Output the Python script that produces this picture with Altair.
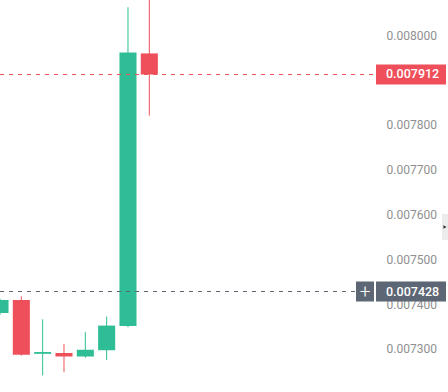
import altair as alt
import pandas as pd

# candle data (index, OHLC)
idx = [0, 1, 2, 3, 4, 5, 6, 7]
opens = [0.007380, 0.007409, 0.007289, 0.007291, 0.007283, 0.007297, 0.007351, 0.007959]
highs = [0.007412, 0.007417, 0.007366, 0.007311, 0.007338, 0.007372, 0.008062, 0.008090]
lows = [0.007376, 0.007285, 0.007241, 0.007248, 0.007280, 0.007275, 0.007348, 0.007820]
closes = [0.007409, 0.007287, 0.007293, 0.007283, 0.007298, 0.007352, 0.007961, 0.007912]

tick_values = [0.0073, 0.0074, 0.0075, 0.0076, 0.0077, 0.0078, 0.0080]
last_price = 0.007912
cross_price = 0.007428

UP = "#2ebd94"
DOWN = "#ef4f5a"
SLATE = "#5d6675"

df = pd.DataFrame({"i": idx, "open": opens, "high": highs, "low": lows, "close": closes})
df["xl"] = df["i"] - 0.4
df["xr"] = df["i"] + 0.4

xscale = alt.Scale(domain=[0, 17.44], nice=False, zero=False)
yscale = alt.Scale(domain=[0.007215, 0.008067], nice=False, zero=False)

color_cond = alt.condition("datum.close >= datum.open", alt.value(UP), alt.value(DOWN))

base = alt.Chart(df)

wicks = base.mark_rule(strokeWidth=1).encode(
    x=alt.X("i:Q", scale=xscale, axis=None),
    y=alt.Y("low:Q", scale=yscale,
            axis=alt.Axis(orient="right", values=tick_values, format=".6f", title=None,
                          domain=False, ticks=False, grid=False, labelPadding=14,
                          labelFont="Roboto", labelFontSize=12, labelColor="#8f8f8f",
                          zindex=0)),
    y2="high:Q",
    color=color_cond,
)

bodies = base.mark_rect().encode(
    x=alt.X("xl:Q", scale=xscale, axis=None),
    x2="xr:Q",
    y=alt.Y("open:Q", scale=yscale),
    y2="close:Q",
    color=color_cond,
)

lines_df = pd.DataFrame({
    "p": [last_price, cross_price],
    "label": ["%.6f" % last_price, "%.6f" % cross_price],
    "c": [DOWN, SLATE],
})

dashes = alt.Chart(lines_df).mark_rule(strokeDash=[4, 5], strokeWidth=1).encode(
    x=alt.value(0),
    x2=alt.value(374),
    y=alt.Y("p:Q", scale=yscale),
    color=alt.Color("c:N", scale=None, legend=None),
)

boxes = alt.Chart(lines_df).mark_bar(size=20, orient="horizontal").encode(
    x=alt.value(376),
    x2=alt.value(446),
    y=alt.Y("p:Q", scale=yscale),
    color=alt.Color("c:N", scale=None, legend=None),
)

labels = alt.Chart(lines_df).mark_text(
    align="left", baseline="middle", color="white", font="Roboto",
    fontSize=12.5, fontWeight=500,
).encode(
    x=alt.value(386),
    y=alt.Y("p:Q", scale=yscale),
    text="label:N",
)

cross_df = pd.DataFrame({"p": [cross_price]})
plus_box = alt.Chart(cross_df).mark_bar(size=20, orient="horizontal", color=SLATE).encode(
    x=alt.value(356),
    x2=alt.value(374),
    y=alt.Y("p:Q", scale=yscale),
)
plus_text = alt.Chart(cross_df).mark_text(
    text="+", color="white", fontSize=19, fontWeight=300, font="Roboto",
    align="center", baseline="middle",
).encode(
    x=alt.value(365),
    y=alt.Y("p:Q", scale=yscale),
)

tab = alt.Chart(cross_df).mark_rect(color="#ececec").encode(
    x=alt.value(442), x2=alt.value(452), y=alt.value(214), y2=alt.value(240)
)
tab_arrow = alt.Chart(cross_df).mark_point(
    shape="triangle-right", filled=True, color="#333333", size=14, opacity=1
).encode(
    x=alt.value(445), y=alt.value(227)
)

chart = alt.layer(
    wicks, bodies, dashes, plus_box, boxes, labels, plus_text, tab, tab_arrow
).properties(
    width=372, height=392,
    padding={"left": 0, "top": 0, "right": 76, "bottom": 0},
    autosize=alt.AutoSizeParams(type="none"),
    background="white",
).configure_view(stroke=None)

chart.save("out.html", embed_options={"renderer": "svg", "actions": False})
